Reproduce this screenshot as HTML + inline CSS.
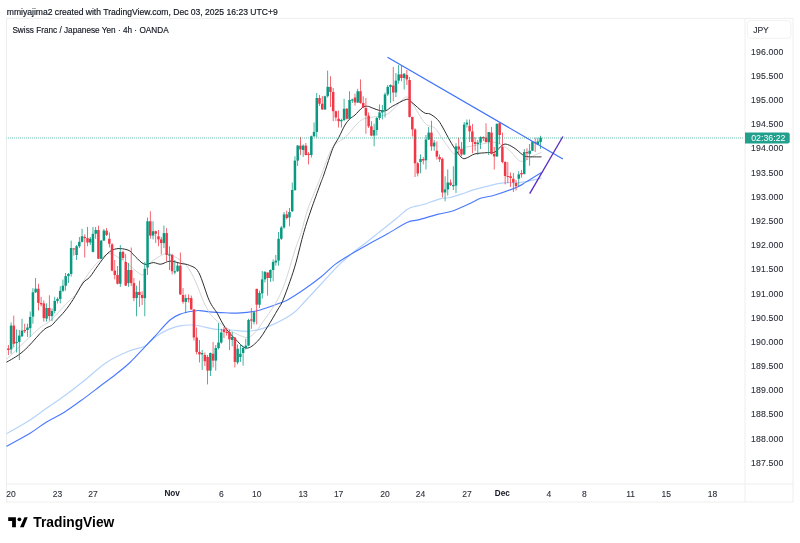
<!DOCTYPE html><html><head><meta charset="utf-8"><style>html,body{margin:0;padding:0;background:#fff;}body{width:800px;height:543px;overflow:hidden;position:relative;font-family:"Liberation Sans",sans-serif;}svg{position:absolute;left:0;top:0;will-change:transform;}</style></head><body>
<svg width="800" height="543" viewBox="0 0 800 543" font-family="Liberation Sans, sans-serif">
<defs><clipPath id="cp"><rect x="6.5" y="18.5" width="738" height="465"/></clipPath></defs>
<text x="6.8" y="14.6" font-size="8.57" fill="#131722" stroke="#131722" stroke-width="0.18">mmiyajima2 created with TradingView.com, Dec 03, 2025 16:23 UTC+9</text>
<rect x="6.5" y="18.4" width="786.5" height="483.6" fill="none" stroke="#eeeeee" stroke-width="1"/>
<line x1="745" y1="18.4" x2="745" y2="502" stroke="#eeeeee" stroke-width="1"/>
<line x1="6.5" y1="484" x2="793" y2="484" stroke="#eeeeee" stroke-width="1"/>
<text x="12.4" y="33" font-size="8.23" fill="#131722" stroke="#131722" stroke-width="0.15">Swiss Franc / Japanese Yen · 4h · OANDA</text>
<g clip-path="url(#cp)">
<path d="M6.00,434.00 C9.68,431.87 21.40,425.45 28.10,421.20 C34.80,416.95 39.83,412.97 46.20,408.50 C52.57,404.03 59.62,399.32 66.30,394.40 C72.98,389.48 79.62,384.33 86.30,379.00 C92.98,373.67 99.37,367.03 106.40,362.40 C113.43,357.77 122.13,353.90 128.50,351.20 C134.87,348.50 139.97,348.69 144.60,346.20 C149.22,343.71 152.22,339.05 156.25,336.25 C160.28,333.45 164.58,331.17 168.75,329.40 C172.92,327.62 177.50,326.33 181.25,325.60 C185.00,324.87 188.12,324.93 191.25,325.00 C194.38,325.07 195.88,325.27 200.00,326.00 C204.12,326.73 210.83,328.73 216.00,329.40 C221.17,330.07 225.54,329.69 231.00,330.00 C236.46,330.31 242.67,331.77 248.75,331.25 C254.83,330.73 260.21,329.82 267.50,326.90 C274.79,323.98 286.04,318.23 292.50,313.75 C298.96,309.27 300.00,306.56 306.25,300.00 C312.50,293.44 324.44,280.33 330.00,274.40 C335.56,268.47 335.73,268.07 339.60,264.40 C343.47,260.73 348.92,255.92 353.20,252.40 C357.48,248.88 360.77,246.83 365.30,243.30 C369.83,239.77 375.37,235.22 380.40,231.20 C385.43,227.18 390.98,222.85 395.50,219.20 C400.02,215.55 404.23,211.45 407.50,209.30 C410.77,207.15 412.58,207.05 415.10,206.30 C417.62,205.55 418.45,206.05 422.60,204.80 C426.75,203.55 435.43,200.02 440.00,198.80 C444.57,197.58 446.25,198.34 450.00,197.50 C453.75,196.66 458.33,195.10 462.50,193.75 C466.67,192.40 468.54,191.18 475.00,189.40 C481.46,187.62 493.75,184.25 501.25,183.10 C508.75,181.95 513.29,183.32 520.00,182.50 C526.71,181.68 537.92,178.92 541.50,178.20" fill="none" stroke="#b5d3fb" stroke-width="1.2"/>
<path d="M6.00,446.50 C10.02,444.29 23.40,437.30 30.10,433.25 C36.80,429.20 40.50,425.71 46.20,422.20 C51.90,418.69 57.95,416.22 64.30,412.20 C70.65,408.18 78.35,402.43 84.30,398.10 C90.25,393.78 94.88,390.10 100.00,386.25 C105.12,382.40 110.00,378.96 115.00,375.00 C120.00,371.04 125.21,366.98 130.00,362.50 C134.79,358.02 139.79,352.27 143.75,348.10 C147.71,343.93 149.38,342.18 153.75,337.50 C158.12,332.82 165.42,323.96 170.00,320.00 C174.58,316.04 177.29,315.25 181.25,313.75 C185.21,312.25 190.62,311.52 193.75,311.00 C196.88,310.48 197.29,310.45 200.00,310.60 C202.71,310.75 205.83,311.54 210.00,311.90 C214.17,312.26 220.42,312.55 225.00,312.75 C229.58,312.95 232.50,313.35 237.50,313.10 C242.50,312.85 250.00,312.18 255.00,311.25 C260.00,310.32 263.33,308.88 267.50,307.50 C271.67,306.12 276.67,304.25 280.00,303.00 C283.33,301.75 283.33,302.38 287.50,300.00 C291.67,297.62 299.33,292.67 305.00,288.75 C310.67,284.83 316.48,280.56 321.50,276.50 C326.52,272.44 330.32,268.05 335.10,264.40 C339.88,260.75 343.92,258.37 350.20,254.60 C356.48,250.83 366.52,245.32 372.80,241.80 C379.08,238.28 382.12,236.77 387.90,233.50 C393.68,230.23 402.47,224.47 407.50,222.20 C412.53,219.93 413.10,221.20 418.10,219.90 C423.10,218.60 431.77,215.88 437.50,214.40 C443.23,212.92 447.29,212.73 452.50,211.00 C457.71,209.27 463.96,206.15 468.75,204.00 C473.54,201.85 476.88,199.60 481.25,198.10 C485.62,196.60 488.96,196.87 495.00,195.00 C501.04,193.13 512.29,189.08 517.50,186.90 C522.71,184.72 522.25,184.30 526.25,181.90 C530.25,179.50 538.96,174.07 541.50,172.50" fill="none" stroke="#2962ff" stroke-width="1.1" stroke-opacity="0.85"/>
<path d="M6.00,360.00 C11.21,355.00 29.92,336.50 37.25,330.00 C44.58,323.50 45.04,325.50 50.00,321.00 C54.96,316.50 62.55,307.62 67.00,303.00 C71.45,298.38 74.07,296.77 76.70,293.30 C79.33,289.83 80.43,286.05 82.80,282.20 C85.17,278.35 88.20,273.72 90.90,270.20 C93.60,266.68 95.88,263.87 99.00,261.10 C102.12,258.33 105.27,253.45 109.60,253.60 C113.93,253.75 119.72,258.48 125.00,262.00 C130.28,265.52 137.80,273.37 141.30,274.70 C144.80,276.03 144.48,272.02 146.00,270.00 C147.52,267.98 147.15,265.33 150.40,262.60 C153.65,259.87 161.48,254.60 165.50,253.60 C169.52,252.60 170.98,254.58 174.50,256.60 C178.02,258.62 183.07,261.47 186.60,265.70 C190.13,269.93 192.77,275.78 195.70,282.00 C198.63,288.22 201.25,297.07 204.20,303.00 C207.15,308.93 209.43,313.32 213.40,317.60 C217.37,321.88 225.07,326.47 228.00,328.70 C230.93,330.93 227.96,329.53 231.00,331.00 C234.04,332.47 242.25,337.25 246.25,337.50 C250.25,337.75 252.29,335.00 255.00,332.50 C257.71,330.00 259.00,327.50 262.50,322.50 C266.00,317.50 272.25,309.17 276.00,302.50 C279.75,295.83 281.83,291.25 285.00,282.50 C288.17,273.75 292.29,258.33 295.00,250.00 C297.71,241.67 299.17,239.17 301.25,232.50 C303.33,225.83 304.79,217.92 307.50,210.00 C310.21,202.08 315.25,190.67 317.50,185.00 C319.75,179.33 318.50,182.25 321.00,176.00 C323.50,169.75 328.50,153.92 332.50,147.50 C336.50,141.08 341.08,141.25 345.00,137.50 C348.92,133.75 353.08,128.02 356.00,125.00 C358.92,121.98 360.17,120.65 362.50,119.40 C364.83,118.15 366.25,118.23 370.00,117.50 C373.75,116.77 381.25,116.25 385.00,115.00 C388.75,113.75 388.96,113.02 392.50,110.00 C396.04,106.98 402.92,97.94 406.25,96.90 C409.58,95.86 409.38,99.36 412.50,103.75 C415.62,108.14 421.25,119.17 425.00,123.25 C428.75,127.33 431.88,125.33 435.00,128.25 C438.12,131.17 440.42,136.38 443.75,140.75 C447.08,145.12 451.88,153.25 455.00,154.50 C458.12,155.75 460.00,149.60 462.50,148.25 C465.00,146.90 465.83,147.28 470.00,146.40 C474.17,145.53 483.17,143.63 487.50,143.00 C491.83,142.37 493.08,141.93 496.00,142.60 C498.92,143.27 502.46,145.43 505.00,147.00 C507.54,148.57 508.54,149.60 511.25,152.00 C513.96,154.40 517.29,160.90 521.25,161.40 C525.21,161.90 531.62,156.50 535.00,155.00 C538.38,153.50 540.42,152.83 541.50,152.40" fill="none" stroke="#d0d0d0" stroke-width="0.9"/>
<path d="M6.00,362.50 C8.08,361.25 14.75,357.71 18.50,355.00 C22.25,352.29 24.33,350.42 28.50,346.25 C32.67,342.08 39.68,333.46 43.50,330.00 C47.32,326.54 49.22,327.17 51.40,325.50 C53.58,323.83 54.37,322.40 56.60,320.00 C58.83,317.60 62.05,314.52 64.80,311.10 C67.55,307.68 70.07,304.18 73.10,299.50 C76.13,294.82 80.23,286.72 83.00,283.00 C85.77,279.28 87.22,280.10 89.70,277.20 C92.18,274.30 95.15,269.33 97.90,265.60 C100.65,261.87 103.72,257.42 106.20,254.80 C108.68,252.18 110.50,250.93 112.80,249.90 C115.10,248.87 117.27,248.48 120.00,248.60 C122.73,248.72 126.65,249.27 129.20,250.60 C131.75,251.93 132.78,254.33 135.30,256.60 C137.82,258.87 141.28,263.20 144.30,264.20 C147.32,265.20 150.63,262.60 153.40,262.60 C156.17,262.60 158.13,264.45 160.90,264.20 C163.67,263.95 166.72,261.23 170.00,261.10 C173.28,260.97 177.33,262.68 180.60,263.40 C183.87,264.12 186.58,263.88 189.60,265.40 C192.62,266.92 195.43,266.67 198.70,272.50 C201.97,278.33 206.07,293.52 209.20,300.40 C212.33,307.27 214.87,309.23 217.50,313.75 C220.13,318.27 222.08,323.33 225.00,327.50 C227.92,331.67 231.46,335.32 235.00,338.75 C238.54,342.18 242.50,347.68 246.25,348.10 C250.00,348.52 253.96,344.78 257.50,341.25 C261.04,337.72 264.17,332.11 267.50,326.90 C270.83,321.69 275.00,314.27 277.50,310.00 C280.00,305.73 280.42,306.04 282.50,301.25 C284.58,296.46 287.75,287.71 290.00,281.25 C292.25,274.79 293.71,270.62 296.00,262.50 C298.29,254.38 301.25,241.25 303.75,232.50 C306.25,223.75 308.29,217.92 311.00,210.00 C313.71,202.08 317.88,190.83 320.00,185.00 C322.12,179.17 322.08,179.79 323.75,175.00 C325.42,170.21 328.33,161.04 330.00,156.25 C331.67,151.46 332.29,149.38 333.75,146.25 C335.21,143.12 336.88,141.04 338.75,137.50 C340.62,133.96 343.12,128.12 345.00,125.00 C346.88,121.88 348.33,120.42 350.00,118.75 C351.67,117.08 352.92,116.88 355.00,115.00 C357.08,113.12 360.42,108.96 362.50,107.50 C364.58,106.04 365.83,106.17 367.50,106.25 C369.17,106.33 370.42,107.28 372.50,108.00 C374.58,108.72 377.75,110.17 380.00,110.60 C382.25,111.03 383.92,111.32 386.00,110.60 C388.08,109.88 389.12,108.12 392.50,106.25 C395.88,104.38 403.12,100.12 406.25,99.40 C409.38,98.68 408.33,99.72 411.25,101.90 C414.17,104.08 420.62,110.48 423.75,112.50 C426.88,114.52 427.71,112.83 430.00,114.00 C432.29,115.17 435.42,117.33 437.50,119.50 C439.58,121.67 440.42,123.46 442.50,127.00 C444.58,130.54 447.71,136.79 450.00,140.75 C452.29,144.71 454.17,147.83 456.25,150.75 C458.33,153.67 460.62,157.11 462.50,158.25 C464.38,159.39 465.42,158.32 467.50,157.60 C469.58,156.88 471.67,154.73 475.00,153.90 C478.33,153.07 484.17,152.92 487.50,152.60 C490.83,152.28 492.50,153.27 495.00,152.00 C497.50,150.73 500.42,146.25 502.50,145.00 C504.58,143.75 505.42,143.92 507.50,144.50 C509.58,145.08 512.52,146.82 515.00,148.50 C517.48,150.18 520.43,153.25 522.40,154.60 C524.37,155.95 523.62,156.22 526.80,156.60 C529.98,156.98 539.05,156.85 541.50,156.90" fill="none" stroke="#2e2e2e" stroke-width="1"/>
<rect x="7.97" y="345.00" width="0.75" height="10.00" fill="#f23645"/>
<rect x="7.10" y="348.50" width="2.5" height="1.50" fill="#f23645"/>
<rect x="10.70" y="322.50" width="0.75" height="31.25" fill="#089981"/>
<rect x="9.83" y="325.60" width="2.5" height="23.80" fill="#089981"/>
<rect x="13.43" y="315.60" width="0.75" height="31.90" fill="#f23645"/>
<rect x="12.56" y="325.60" width="2.5" height="18.15" fill="#f23645"/>
<rect x="16.16" y="329.40" width="0.75" height="23.10" fill="#089981"/>
<rect x="15.29" y="341.90" width="2.5" height="1.20" fill="#089981"/>
<rect x="18.89" y="330.00" width="0.75" height="30.00" fill="#089981"/>
<rect x="18.02" y="335.60" width="2.5" height="6.30" fill="#089981"/>
<rect x="21.62" y="318.75" width="0.75" height="18.25" fill="#089981"/>
<rect x="20.75" y="330.60" width="2.5" height="5.65" fill="#089981"/>
<rect x="24.35" y="323.75" width="0.75" height="9.25" fill="#f23645"/>
<rect x="23.48" y="330.00" width="2.5" height="1.25" fill="#f23645"/>
<rect x="27.08" y="323.75" width="0.75" height="13.15" fill="#089981"/>
<rect x="26.21" y="327.50" width="2.5" height="2.50" fill="#089981"/>
<rect x="29.81" y="311.50" width="0.75" height="25.40" fill="#089981"/>
<rect x="28.94" y="317.00" width="2.5" height="11.10" fill="#089981"/>
<rect x="32.54" y="288.20" width="0.75" height="35.55" fill="#089981"/>
<rect x="31.67" y="292.30" width="2.5" height="24.30" fill="#089981"/>
<rect x="35.27" y="278.10" width="0.75" height="14.90" fill="#089981"/>
<rect x="34.39" y="288.70" width="2.5" height="3.60" fill="#089981"/>
<rect x="38.00" y="283.70" width="0.75" height="26.80" fill="#f23645"/>
<rect x="37.12" y="288.70" width="2.5" height="14.20" fill="#f23645"/>
<rect x="40.73" y="296.80" width="0.75" height="9.70" fill="#f23645"/>
<rect x="39.85" y="302.90" width="2.5" height="1.50" fill="#f23645"/>
<rect x="43.46" y="300.40" width="0.75" height="21.20" fill="#f23645"/>
<rect x="42.58" y="303.40" width="2.5" height="14.70" fill="#f23645"/>
<rect x="46.19" y="303.40" width="0.75" height="18.20" fill="#089981"/>
<rect x="45.31" y="308.00" width="2.5" height="10.60" fill="#089981"/>
<rect x="48.92" y="295.30" width="0.75" height="25.30" fill="#f23645"/>
<rect x="48.04" y="308.00" width="2.5" height="8.10" fill="#f23645"/>
<rect x="51.65" y="308.50" width="0.75" height="12.60" fill="#089981"/>
<rect x="50.77" y="311.00" width="2.5" height="5.10" fill="#089981"/>
<rect x="54.38" y="296.80" width="0.75" height="16.70" fill="#089981"/>
<rect x="53.50" y="300.90" width="2.5" height="10.10" fill="#089981"/>
<rect x="57.11" y="297.30" width="0.75" height="6.10" fill="#089981"/>
<rect x="56.23" y="298.90" width="2.5" height="2.00" fill="#089981"/>
<rect x="59.84" y="286.20" width="0.75" height="17.20" fill="#089981"/>
<rect x="58.96" y="290.80" width="2.5" height="8.10" fill="#089981"/>
<rect x="62.56" y="279.50" width="0.75" height="12.50" fill="#089981"/>
<rect x="61.69" y="285.70" width="2.5" height="5.10" fill="#089981"/>
<rect x="65.29" y="273.00" width="0.75" height="17.60" fill="#089981"/>
<rect x="64.42" y="276.10" width="2.5" height="9.60" fill="#089981"/>
<rect x="68.02" y="273.00" width="0.75" height="10.00" fill="#089981"/>
<rect x="67.15" y="274.00" width="2.5" height="2.10" fill="#089981"/>
<rect x="70.75" y="240.60" width="0.75" height="36.00" fill="#089981"/>
<rect x="69.88" y="248.00" width="2.5" height="26.00" fill="#089981"/>
<rect x="73.48" y="248.00" width="0.75" height="7.60" fill="#f23645"/>
<rect x="72.61" y="248.50" width="2.5" height="0.90" fill="#f23645"/>
<rect x="76.21" y="245.00" width="0.75" height="15.00" fill="#089981"/>
<rect x="75.34" y="246.25" width="2.5" height="8.75" fill="#089981"/>
<rect x="78.94" y="237.00" width="0.75" height="11.00" fill="#089981"/>
<rect x="78.07" y="241.90" width="2.5" height="4.35" fill="#089981"/>
<rect x="81.67" y="228.75" width="0.75" height="13.75" fill="#089981"/>
<rect x="80.80" y="236.25" width="2.5" height="5.65" fill="#089981"/>
<rect x="84.40" y="234.40" width="0.75" height="23.10" fill="#f23645"/>
<rect x="83.53" y="236.90" width="2.5" height="1.20" fill="#f23645"/>
<rect x="87.13" y="226.90" width="0.75" height="19.35" fill="#f23645"/>
<rect x="86.26" y="238.10" width="2.5" height="4.40" fill="#f23645"/>
<rect x="89.86" y="237.00" width="0.75" height="8.00" fill="#089981"/>
<rect x="88.98" y="238.75" width="2.5" height="3.75" fill="#089981"/>
<rect x="92.59" y="226.90" width="0.75" height="25.60" fill="#089981"/>
<rect x="91.71" y="233.75" width="2.5" height="18.15" fill="#089981"/>
<rect x="95.32" y="226.90" width="0.75" height="11.85" fill="#089981"/>
<rect x="94.44" y="230.00" width="2.5" height="3.75" fill="#089981"/>
<rect x="98.05" y="225.60" width="0.75" height="33.40" fill="#f23645"/>
<rect x="97.17" y="230.00" width="2.5" height="28.75" fill="#f23645"/>
<rect x="100.78" y="240.00" width="0.75" height="19.00" fill="#089981"/>
<rect x="99.90" y="240.60" width="2.5" height="18.15" fill="#089981"/>
<rect x="103.51" y="229.00" width="0.75" height="12.00" fill="#089981"/>
<rect x="102.63" y="230.60" width="2.5" height="10.00" fill="#089981"/>
<rect x="106.24" y="228.00" width="0.75" height="8.00" fill="#f23645"/>
<rect x="105.36" y="230.60" width="2.5" height="4.40" fill="#f23645"/>
<rect x="108.97" y="232.50" width="0.75" height="15.00" fill="#f23645"/>
<rect x="108.09" y="238.75" width="2.5" height="5.00" fill="#f23645"/>
<rect x="111.70" y="243.00" width="0.75" height="28.25" fill="#f23645"/>
<rect x="110.82" y="244.40" width="2.5" height="26.20" fill="#f23645"/>
<rect x="114.43" y="260.00" width="0.75" height="19.40" fill="#f23645"/>
<rect x="113.55" y="270.60" width="2.5" height="4.40" fill="#f23645"/>
<rect x="117.15" y="266.00" width="0.75" height="18.40" fill="#f23645"/>
<rect x="116.28" y="275.00" width="2.5" height="8.75" fill="#f23645"/>
<rect x="119.88" y="245.00" width="0.75" height="41.90" fill="#089981"/>
<rect x="119.01" y="251.90" width="2.5" height="31.85" fill="#089981"/>
<rect x="122.61" y="250.60" width="0.75" height="9.40" fill="#f23645"/>
<rect x="121.74" y="251.90" width="2.5" height="6.10" fill="#f23645"/>
<rect x="125.34" y="254.00" width="0.75" height="32.00" fill="#f23645"/>
<rect x="124.47" y="262.00" width="2.5" height="23.60" fill="#f23645"/>
<rect x="128.07" y="263.00" width="0.75" height="23.90" fill="#089981"/>
<rect x="127.20" y="270.00" width="2.5" height="13.10" fill="#089981"/>
<rect x="130.80" y="247.50" width="0.75" height="38.50" fill="#f23645"/>
<rect x="129.93" y="270.00" width="2.5" height="13.10" fill="#f23645"/>
<rect x="133.53" y="278.00" width="0.75" height="23.25" fill="#f23645"/>
<rect x="132.66" y="283.10" width="2.5" height="15.00" fill="#f23645"/>
<rect x="136.26" y="285.60" width="0.75" height="30.65" fill="#089981"/>
<rect x="135.39" y="291.90" width="2.5" height="6.20" fill="#089981"/>
<rect x="138.99" y="280.60" width="0.75" height="26.30" fill="#f23645"/>
<rect x="138.12" y="291.90" width="2.5" height="3.10" fill="#f23645"/>
<rect x="141.72" y="291.25" width="0.75" height="13.75" fill="#f23645"/>
<rect x="140.85" y="295.00" width="2.5" height="3.10" fill="#f23645"/>
<rect x="144.45" y="262.00" width="0.75" height="54.25" fill="#089981"/>
<rect x="143.57" y="268.75" width="2.5" height="29.35" fill="#089981"/>
<rect x="147.18" y="217.50" width="0.75" height="57.50" fill="#089981"/>
<rect x="146.30" y="221.25" width="2.5" height="46.25" fill="#089981"/>
<rect x="149.91" y="211.25" width="0.75" height="27.50" fill="#f23645"/>
<rect x="149.03" y="221.25" width="2.5" height="14.35" fill="#f23645"/>
<rect x="152.64" y="221.25" width="0.75" height="18.15" fill="#089981"/>
<rect x="151.76" y="231.25" width="2.5" height="4.35" fill="#089981"/>
<rect x="155.37" y="230.60" width="0.75" height="12.40" fill="#f23645"/>
<rect x="154.49" y="231.25" width="2.5" height="2.50" fill="#f23645"/>
<rect x="158.10" y="230.00" width="0.75" height="16.25" fill="#f23645"/>
<rect x="157.22" y="236.25" width="2.5" height="3.15" fill="#f23645"/>
<rect x="160.83" y="236.90" width="0.75" height="17.50" fill="#f23645"/>
<rect x="159.95" y="239.40" width="2.5" height="3.70" fill="#f23645"/>
<rect x="163.56" y="225.60" width="0.75" height="22.50" fill="#089981"/>
<rect x="162.68" y="233.10" width="2.5" height="10.00" fill="#089981"/>
<rect x="166.29" y="228.10" width="0.75" height="33.15" fill="#f23645"/>
<rect x="165.41" y="233.10" width="2.5" height="21.90" fill="#f23645"/>
<rect x="169.02" y="246.25" width="0.75" height="23.75" fill="#089981"/>
<rect x="168.14" y="254.40" width="2.5" height="1.20" fill="#089981"/>
<rect x="171.74" y="253.75" width="0.75" height="20.65" fill="#f23645"/>
<rect x="170.87" y="255.00" width="2.5" height="16.25" fill="#f23645"/>
<rect x="174.47" y="260.00" width="0.75" height="14.40" fill="#089981"/>
<rect x="173.60" y="271.25" width="2.5" height="1.25" fill="#089981"/>
<rect x="177.20" y="263.00" width="0.75" height="9.00" fill="#089981"/>
<rect x="176.33" y="265.60" width="2.5" height="5.65" fill="#089981"/>
<rect x="179.93" y="252.50" width="0.75" height="42.50" fill="#f23645"/>
<rect x="179.06" y="265.60" width="2.5" height="28.80" fill="#f23645"/>
<rect x="182.66" y="288.00" width="0.75" height="15.75" fill="#f23645"/>
<rect x="181.79" y="295.00" width="2.5" height="6.90" fill="#f23645"/>
<rect x="185.39" y="294.40" width="0.75" height="18.70" fill="#089981"/>
<rect x="184.52" y="298.10" width="2.5" height="3.80" fill="#089981"/>
<rect x="188.12" y="294.40" width="0.75" height="8.10" fill="#f23645"/>
<rect x="187.25" y="298.10" width="2.5" height="1.30" fill="#f23645"/>
<rect x="190.85" y="295.60" width="0.75" height="14.40" fill="#f23645"/>
<rect x="189.98" y="298.10" width="2.5" height="11.30" fill="#f23645"/>
<rect x="193.58" y="309.40" width="0.75" height="31.20" fill="#f23645"/>
<rect x="192.71" y="309.40" width="2.5" height="28.10" fill="#f23645"/>
<rect x="196.31" y="327.50" width="0.75" height="26.90" fill="#f23645"/>
<rect x="195.44" y="337.50" width="2.5" height="14.40" fill="#f23645"/>
<rect x="199.04" y="340.00" width="0.75" height="22.50" fill="#f23645"/>
<rect x="198.16" y="351.90" width="2.5" height="2.50" fill="#f23645"/>
<rect x="201.77" y="350.00" width="0.75" height="20.00" fill="#089981"/>
<rect x="200.89" y="353.00" width="2.5" height="1.40" fill="#089981"/>
<rect x="204.50" y="352.50" width="0.75" height="13.50" fill="#f23645"/>
<rect x="203.62" y="355.00" width="2.5" height="6.25" fill="#f23645"/>
<rect x="207.23" y="355.00" width="0.75" height="29.40" fill="#f23645"/>
<rect x="206.35" y="357.00" width="2.5" height="13.60" fill="#f23645"/>
<rect x="209.96" y="352.50" width="0.75" height="23.50" fill="#089981"/>
<rect x="209.08" y="353.00" width="2.5" height="17.60" fill="#089981"/>
<rect x="212.69" y="342.00" width="0.75" height="25.50" fill="#f23645"/>
<rect x="211.81" y="353.75" width="2.5" height="6.85" fill="#f23645"/>
<rect x="215.42" y="345.00" width="0.75" height="25.60" fill="#089981"/>
<rect x="214.54" y="348.00" width="2.5" height="12.60" fill="#089981"/>
<rect x="218.15" y="323.00" width="0.75" height="26.40" fill="#089981"/>
<rect x="217.27" y="342.50" width="2.5" height="5.50" fill="#089981"/>
<rect x="220.88" y="328.75" width="0.75" height="15.00" fill="#089981"/>
<rect x="220.00" y="332.50" width="2.5" height="10.00" fill="#089981"/>
<rect x="223.61" y="327.00" width="0.75" height="11.00" fill="#f23645"/>
<rect x="222.73" y="329.40" width="2.5" height="2.60" fill="#f23645"/>
<rect x="226.33" y="328.00" width="0.75" height="7.60" fill="#f23645"/>
<rect x="225.46" y="332.00" width="2.5" height="1.00" fill="#f23645"/>
<rect x="229.06" y="329.40" width="0.75" height="20.60" fill="#f23645"/>
<rect x="228.19" y="332.00" width="2.5" height="7.40" fill="#f23645"/>
<rect x="231.79" y="331.90" width="0.75" height="14.35" fill="#089981"/>
<rect x="230.92" y="337.00" width="2.5" height="3.00" fill="#089981"/>
<rect x="234.52" y="337.00" width="0.75" height="30.50" fill="#f23645"/>
<rect x="233.65" y="337.50" width="2.5" height="24.40" fill="#f23645"/>
<rect x="237.25" y="344.40" width="0.75" height="20.00" fill="#089981"/>
<rect x="236.38" y="348.75" width="2.5" height="13.75" fill="#089981"/>
<rect x="239.98" y="344.40" width="0.75" height="17.50" fill="#089981"/>
<rect x="239.11" y="353.75" width="2.5" height="3.25" fill="#089981"/>
<rect x="242.71" y="346.00" width="0.75" height="19.60" fill="#089981"/>
<rect x="241.84" y="348.00" width="2.5" height="5.00" fill="#089981"/>
<rect x="245.44" y="338.75" width="0.75" height="10.65" fill="#089981"/>
<rect x="244.57" y="345.60" width="2.5" height="2.40" fill="#089981"/>
<rect x="248.17" y="318.75" width="0.75" height="27.50" fill="#089981"/>
<rect x="247.30" y="320.00" width="2.5" height="25.60" fill="#089981"/>
<rect x="250.90" y="308.00" width="0.75" height="20.75" fill="#f23645"/>
<rect x="250.03" y="319.40" width="2.5" height="1.20" fill="#f23645"/>
<rect x="253.63" y="311.25" width="0.75" height="13.15" fill="#089981"/>
<rect x="252.75" y="312.30" width="2.5" height="9.60" fill="#089981"/>
<rect x="256.36" y="288.75" width="0.75" height="35.65" fill="#f23645"/>
<rect x="255.48" y="288.90" width="2.5" height="15.80" fill="#f23645"/>
<rect x="259.09" y="290.60" width="0.75" height="17.40" fill="#089981"/>
<rect x="258.21" y="293.00" width="2.5" height="11.70" fill="#089981"/>
<rect x="261.82" y="271.00" width="0.75" height="27.60" fill="#089981"/>
<rect x="260.94" y="279.40" width="2.5" height="14.00" fill="#089981"/>
<rect x="264.55" y="271.00" width="0.75" height="11.50" fill="#089981"/>
<rect x="263.67" y="271.90" width="2.5" height="7.50" fill="#089981"/>
<rect x="267.28" y="272.50" width="0.75" height="23.10" fill="#f23645"/>
<rect x="266.40" y="272.50" width="2.5" height="5.50" fill="#f23645"/>
<rect x="270.01" y="269.40" width="0.75" height="12.50" fill="#089981"/>
<rect x="269.13" y="270.00" width="2.5" height="8.00" fill="#089981"/>
<rect x="272.74" y="259.40" width="0.75" height="21.85" fill="#089981"/>
<rect x="271.86" y="261.90" width="2.5" height="8.10" fill="#089981"/>
<rect x="275.47" y="255.00" width="0.75" height="10.60" fill="#089981"/>
<rect x="274.59" y="260.60" width="2.5" height="1.90" fill="#089981"/>
<rect x="278.20" y="232.00" width="0.75" height="33.60" fill="#089981"/>
<rect x="277.32" y="238.75" width="2.5" height="21.85" fill="#089981"/>
<rect x="280.93" y="226.00" width="0.75" height="14.00" fill="#089981"/>
<rect x="280.05" y="227.50" width="2.5" height="11.25" fill="#089981"/>
<rect x="283.65" y="212.00" width="0.75" height="16.75" fill="#089981"/>
<rect x="282.78" y="214.40" width="2.5" height="13.10" fill="#089981"/>
<rect x="286.38" y="210.60" width="0.75" height="8.80" fill="#f23645"/>
<rect x="285.51" y="214.40" width="2.5" height="3.60" fill="#f23645"/>
<rect x="289.11" y="208.00" width="0.75" height="18.25" fill="#089981"/>
<rect x="288.24" y="212.00" width="2.5" height="5.50" fill="#089981"/>
<rect x="291.84" y="182.50" width="0.75" height="29.50" fill="#089981"/>
<rect x="290.97" y="190.00" width="2.5" height="21.25" fill="#089981"/>
<rect x="294.57" y="156.25" width="0.75" height="34.75" fill="#089981"/>
<rect x="293.70" y="160.60" width="2.5" height="29.40" fill="#089981"/>
<rect x="297.30" y="145.00" width="0.75" height="21.00" fill="#089981"/>
<rect x="296.43" y="145.60" width="2.5" height="15.00" fill="#089981"/>
<rect x="300.03" y="136.90" width="0.75" height="18.10" fill="#f23645"/>
<rect x="299.16" y="145.60" width="2.5" height="3.80" fill="#f23645"/>
<rect x="302.76" y="144.40" width="0.75" height="12.50" fill="#089981"/>
<rect x="301.89" y="145.60" width="2.5" height="4.40" fill="#089981"/>
<rect x="305.49" y="143.00" width="0.75" height="12.50" fill="#f23645"/>
<rect x="304.62" y="145.60" width="2.5" height="9.40" fill="#f23645"/>
<rect x="308.22" y="152.00" width="0.75" height="12.40" fill="#f23645"/>
<rect x="307.35" y="153.75" width="2.5" height="1.25" fill="#f23645"/>
<rect x="310.95" y="135.60" width="0.75" height="21.90" fill="#089981"/>
<rect x="310.07" y="136.25" width="2.5" height="18.75" fill="#089981"/>
<rect x="313.68" y="122.50" width="0.75" height="14.50" fill="#089981"/>
<rect x="312.80" y="131.90" width="2.5" height="4.35" fill="#089981"/>
<rect x="316.41" y="93.00" width="0.75" height="44.50" fill="#089981"/>
<rect x="315.53" y="98.00" width="2.5" height="33.90" fill="#089981"/>
<rect x="319.14" y="95.00" width="0.75" height="11.00" fill="#f23645"/>
<rect x="318.26" y="98.00" width="2.5" height="5.75" fill="#f23645"/>
<rect x="321.87" y="96.00" width="0.75" height="14.00" fill="#f23645"/>
<rect x="320.99" y="103.75" width="2.5" height="5.65" fill="#f23645"/>
<rect x="324.60" y="95.60" width="0.75" height="14.40" fill="#089981"/>
<rect x="323.72" y="96.25" width="2.5" height="13.15" fill="#089981"/>
<rect x="327.33" y="70.60" width="0.75" height="26.90" fill="#089981"/>
<rect x="326.45" y="86.90" width="2.5" height="9.35" fill="#089981"/>
<rect x="330.06" y="76.25" width="0.75" height="30.75" fill="#f23645"/>
<rect x="329.18" y="86.90" width="2.5" height="5.10" fill="#f23645"/>
<rect x="332.79" y="88.00" width="0.75" height="33.25" fill="#f23645"/>
<rect x="331.91" y="92.00" width="2.5" height="19.25" fill="#f23645"/>
<rect x="335.51" y="110.60" width="0.75" height="10.40" fill="#f23645"/>
<rect x="334.64" y="111.25" width="2.5" height="6.25" fill="#f23645"/>
<rect x="338.24" y="110.60" width="0.75" height="16.90" fill="#f23645"/>
<rect x="337.37" y="118.75" width="2.5" height="2.50" fill="#f23645"/>
<rect x="340.97" y="118.75" width="0.75" height="8.75" fill="#089981"/>
<rect x="340.10" y="120.00" width="2.5" height="1.25" fill="#089981"/>
<rect x="343.70" y="98.75" width="0.75" height="22.50" fill="#089981"/>
<rect x="342.83" y="108.75" width="2.5" height="11.25" fill="#089981"/>
<rect x="346.43" y="108.00" width="0.75" height="11.40" fill="#f23645"/>
<rect x="345.56" y="108.75" width="2.5" height="10.00" fill="#f23645"/>
<rect x="349.16" y="91.25" width="0.75" height="28.75" fill="#089981"/>
<rect x="348.29" y="100.00" width="2.5" height="18.75" fill="#089981"/>
<rect x="351.89" y="98.75" width="0.75" height="4.25" fill="#089981"/>
<rect x="351.02" y="99.40" width="2.5" height="1.20" fill="#089981"/>
<rect x="354.62" y="93.75" width="0.75" height="11.85" fill="#f23645"/>
<rect x="353.75" y="97.50" width="2.5" height="5.00" fill="#f23645"/>
<rect x="357.35" y="88.75" width="0.75" height="14.25" fill="#089981"/>
<rect x="356.48" y="91.25" width="2.5" height="11.25" fill="#089981"/>
<rect x="360.08" y="79.40" width="0.75" height="24.35" fill="#f23645"/>
<rect x="359.21" y="91.25" width="2.5" height="11.75" fill="#f23645"/>
<rect x="362.81" y="96.25" width="0.75" height="11.75" fill="#f23645"/>
<rect x="361.94" y="103.00" width="2.5" height="4.50" fill="#f23645"/>
<rect x="365.54" y="98.00" width="0.75" height="35.75" fill="#f23645"/>
<rect x="364.66" y="108.00" width="2.5" height="7.60" fill="#f23645"/>
<rect x="368.27" y="112.50" width="0.75" height="15.50" fill="#f23645"/>
<rect x="367.39" y="115.60" width="2.5" height="10.65" fill="#f23645"/>
<rect x="371.00" y="121.25" width="0.75" height="15.00" fill="#f23645"/>
<rect x="370.12" y="126.25" width="2.5" height="9.35" fill="#f23645"/>
<rect x="373.73" y="123.75" width="0.75" height="22.50" fill="#089981"/>
<rect x="372.85" y="130.00" width="2.5" height="5.60" fill="#089981"/>
<rect x="376.46" y="117.00" width="0.75" height="18.60" fill="#089981"/>
<rect x="375.58" y="118.00" width="2.5" height="12.00" fill="#089981"/>
<rect x="379.19" y="104.40" width="0.75" height="15.60" fill="#089981"/>
<rect x="378.31" y="112.50" width="2.5" height="5.50" fill="#089981"/>
<rect x="381.92" y="105.00" width="0.75" height="14.40" fill="#089981"/>
<rect x="381.04" y="110.00" width="2.5" height="2.50" fill="#089981"/>
<rect x="384.65" y="92.50" width="0.75" height="25.00" fill="#089981"/>
<rect x="383.77" y="94.40" width="2.5" height="15.60" fill="#089981"/>
<rect x="387.38" y="85.00" width="0.75" height="11.00" fill="#089981"/>
<rect x="386.50" y="86.90" width="2.5" height="7.50" fill="#089981"/>
<rect x="390.11" y="84.40" width="0.75" height="18.60" fill="#089981"/>
<rect x="389.23" y="85.00" width="2.5" height="1.90" fill="#089981"/>
<rect x="392.83" y="66.90" width="0.75" height="34.35" fill="#f23645"/>
<rect x="391.96" y="85.60" width="2.5" height="6.90" fill="#f23645"/>
<rect x="395.56" y="73.00" width="0.75" height="24.00" fill="#089981"/>
<rect x="394.69" y="80.60" width="2.5" height="11.90" fill="#089981"/>
<rect x="398.29" y="65.00" width="0.75" height="18.75" fill="#089981"/>
<rect x="397.42" y="74.40" width="2.5" height="6.20" fill="#089981"/>
<rect x="401.02" y="65.60" width="0.75" height="15.65" fill="#f23645"/>
<rect x="400.15" y="74.40" width="2.5" height="3.60" fill="#f23645"/>
<rect x="403.75" y="73.00" width="0.75" height="16.40" fill="#089981"/>
<rect x="402.88" y="73.75" width="2.5" height="4.25" fill="#089981"/>
<rect x="406.48" y="70.00" width="0.75" height="15.00" fill="#f23645"/>
<rect x="405.61" y="75.00" width="2.5" height="4.40" fill="#f23645"/>
<rect x="409.21" y="77.00" width="0.75" height="40.50" fill="#f23645"/>
<rect x="408.34" y="80.00" width="2.5" height="36.90" fill="#f23645"/>
<rect x="411.94" y="116.90" width="0.75" height="19.50" fill="#f23645"/>
<rect x="411.07" y="116.90" width="2.5" height="12.60" fill="#f23645"/>
<rect x="414.67" y="128.25" width="0.75" height="48.75" fill="#f23645"/>
<rect x="413.80" y="129.50" width="2.5" height="33.75" fill="#f23645"/>
<rect x="417.40" y="162.00" width="0.75" height="14.40" fill="#f23645"/>
<rect x="416.52" y="163.25" width="2.5" height="10.25" fill="#f23645"/>
<rect x="420.13" y="154.40" width="0.75" height="18.85" fill="#089981"/>
<rect x="419.25" y="158.90" width="2.5" height="3.10" fill="#089981"/>
<rect x="422.86" y="157.00" width="0.75" height="7.40" fill="#f23645"/>
<rect x="421.98" y="159.00" width="2.5" height="1.50" fill="#f23645"/>
<rect x="425.59" y="135.00" width="0.75" height="34.40" fill="#089981"/>
<rect x="424.71" y="139.50" width="2.5" height="20.80" fill="#089981"/>
<rect x="428.32" y="127.00" width="0.75" height="13.00" fill="#089981"/>
<rect x="427.44" y="132.60" width="2.5" height="6.90" fill="#089981"/>
<rect x="431.05" y="120.75" width="0.75" height="30.00" fill="#f23645"/>
<rect x="430.17" y="132.60" width="2.5" height="13.80" fill="#f23645"/>
<rect x="433.78" y="140.00" width="0.75" height="10.75" fill="#089981"/>
<rect x="432.90" y="142.60" width="2.5" height="3.80" fill="#089981"/>
<rect x="436.51" y="141.40" width="0.75" height="18.10" fill="#f23645"/>
<rect x="435.63" y="150.75" width="2.5" height="5.85" fill="#f23645"/>
<rect x="439.24" y="154.50" width="0.75" height="7.50" fill="#f23645"/>
<rect x="438.36" y="157.00" width="2.5" height="2.40" fill="#f23645"/>
<rect x="441.97" y="157.60" width="0.75" height="39.90" fill="#f23645"/>
<rect x="441.09" y="158.90" width="2.5" height="33.60" fill="#f23645"/>
<rect x="444.69" y="176.25" width="0.75" height="25.00" fill="#089981"/>
<rect x="443.82" y="189.40" width="2.5" height="3.10" fill="#089981"/>
<rect x="447.42" y="169.40" width="0.75" height="26.20" fill="#089981"/>
<rect x="446.55" y="182.50" width="2.5" height="6.90" fill="#089981"/>
<rect x="450.15" y="179.40" width="0.75" height="6.60" fill="#f23645"/>
<rect x="449.28" y="182.50" width="2.5" height="2.50" fill="#f23645"/>
<rect x="452.88" y="166.25" width="0.75" height="23.75" fill="#089981"/>
<rect x="452.01" y="185.00" width="2.5" height="1.25" fill="#089981"/>
<rect x="455.61" y="143.25" width="0.75" height="49.85" fill="#089981"/>
<rect x="454.74" y="146.40" width="2.5" height="39.20" fill="#089981"/>
<rect x="458.34" y="137.60" width="0.75" height="16.90" fill="#f23645"/>
<rect x="457.47" y="146.40" width="2.5" height="3.10" fill="#f23645"/>
<rect x="461.07" y="142.00" width="0.75" height="14.00" fill="#f23645"/>
<rect x="460.20" y="148.90" width="2.5" height="5.60" fill="#f23645"/>
<rect x="463.80" y="122.00" width="0.75" height="33.00" fill="#089981"/>
<rect x="462.93" y="124.50" width="2.5" height="30.00" fill="#089981"/>
<rect x="466.53" y="119.50" width="0.75" height="8.10" fill="#089981"/>
<rect x="465.66" y="122.60" width="2.5" height="1.90" fill="#089981"/>
<rect x="469.26" y="119.50" width="0.75" height="22.50" fill="#f23645"/>
<rect x="468.39" y="125.75" width="2.5" height="5.65" fill="#f23645"/>
<rect x="471.99" y="123.90" width="0.75" height="29.35" fill="#f23645"/>
<rect x="471.12" y="131.40" width="2.5" height="10.60" fill="#f23645"/>
<rect x="474.72" y="137.00" width="0.75" height="13.75" fill="#f23645"/>
<rect x="473.84" y="142.00" width="2.5" height="2.00" fill="#f23645"/>
<rect x="477.45" y="140.00" width="0.75" height="15.00" fill="#089981"/>
<rect x="476.57" y="142.60" width="2.5" height="1.40" fill="#089981"/>
<rect x="480.18" y="136.40" width="0.75" height="12.60" fill="#089981"/>
<rect x="479.30" y="137.00" width="2.5" height="5.60" fill="#089981"/>
<rect x="482.91" y="136.40" width="0.75" height="4.60" fill="#f23645"/>
<rect x="482.03" y="137.00" width="2.5" height="1.25" fill="#f23645"/>
<rect x="485.64" y="123.25" width="0.75" height="19.35" fill="#f23645"/>
<rect x="484.76" y="137.60" width="2.5" height="4.40" fill="#f23645"/>
<rect x="488.37" y="132.00" width="0.75" height="23.00" fill="#089981"/>
<rect x="487.49" y="132.00" width="2.5" height="10.00" fill="#089981"/>
<rect x="491.10" y="127.00" width="0.75" height="27.50" fill="#f23645"/>
<rect x="490.22" y="132.60" width="2.5" height="21.30" fill="#f23645"/>
<rect x="493.83" y="147.00" width="0.75" height="22.40" fill="#f23645"/>
<rect x="492.95" y="153.90" width="2.5" height="2.50" fill="#f23645"/>
<rect x="496.56" y="123.25" width="0.75" height="33.75" fill="#089981"/>
<rect x="495.68" y="123.90" width="2.5" height="32.50" fill="#089981"/>
<rect x="499.28" y="122.60" width="0.75" height="21.40" fill="#f23645"/>
<rect x="498.41" y="123.25" width="2.5" height="11.75" fill="#f23645"/>
<rect x="502.01" y="132.60" width="0.75" height="30.65" fill="#f23645"/>
<rect x="501.14" y="147.00" width="2.5" height="15.00" fill="#f23645"/>
<rect x="504.74" y="161.40" width="0.75" height="23.00" fill="#f23645"/>
<rect x="503.87" y="161.90" width="2.5" height="14.10" fill="#f23645"/>
<rect x="507.47" y="162.00" width="0.75" height="21.00" fill="#f23645"/>
<rect x="506.60" y="176.00" width="2.5" height="1.00" fill="#f23645"/>
<rect x="510.20" y="172.50" width="0.75" height="14.40" fill="#f23645"/>
<rect x="509.33" y="176.25" width="2.5" height="1.75" fill="#f23645"/>
<rect x="512.93" y="173.00" width="0.75" height="18.90" fill="#f23645"/>
<rect x="512.06" y="178.75" width="2.5" height="3.75" fill="#f23645"/>
<rect x="515.66" y="180.00" width="0.75" height="10.60" fill="#f23645"/>
<rect x="514.79" y="183.00" width="2.5" height="3.25" fill="#f23645"/>
<rect x="518.39" y="171.25" width="0.75" height="15.00" fill="#089981"/>
<rect x="517.52" y="174.40" width="2.5" height="4.35" fill="#089981"/>
<rect x="521.12" y="170.00" width="0.75" height="7.50" fill="#f23645"/>
<rect x="520.25" y="173.00" width="2.5" height="1.40" fill="#f23645"/>
<rect x="523.85" y="149.00" width="0.75" height="25.50" fill="#089981"/>
<rect x="522.98" y="152.00" width="2.5" height="21.90" fill="#089981"/>
<rect x="526.58" y="148.25" width="0.75" height="11.75" fill="#f23645"/>
<rect x="525.71" y="152.00" width="2.5" height="1.25" fill="#f23645"/>
<rect x="529.31" y="144.00" width="0.75" height="21.75" fill="#089981"/>
<rect x="528.43" y="150.75" width="2.5" height="3.15" fill="#089981"/>
<rect x="532.04" y="141.00" width="0.75" height="10.00" fill="#089981"/>
<rect x="531.16" y="141.40" width="2.5" height="9.35" fill="#089981"/>
<rect x="534.77" y="137.60" width="0.75" height="14.40" fill="#f23645"/>
<rect x="533.89" y="142.00" width="2.5" height="1.25" fill="#f23645"/>
<rect x="537.50" y="137.60" width="0.75" height="7.40" fill="#089981"/>
<rect x="536.62" y="141.40" width="2.5" height="3.10" fill="#089981"/>
<rect x="540.23" y="135.75" width="0.75" height="13.15" fill="#089981"/>
<rect x="539.35" y="137.60" width="2.5" height="4.40" fill="#089981"/>
<line x1="6" y1="138" x2="744" y2="138" stroke="#089981" stroke-width="1" stroke-dasharray="1 1" stroke-opacity="0.6"/>
<line x1="387.5" y1="57.25" x2="562.9" y2="158.95" stroke="#3f73fb" stroke-width="1.25"/>
<line x1="529.7" y1="193.6" x2="562.9" y2="136.5" stroke="#5b2dc4" stroke-width="1.35"/>
</g>
<rect x="747.4" y="20.6" width="43.4" height="17.7" rx="3" fill="#fff" stroke="#eeeeee" stroke-width="0.8"/>
<text x="753.3" y="33" font-size="8.6" letter-spacing="-0.2" fill="#2a2e39" stroke="#2a2e39" stroke-width="0.12">JPY</text>
<text x="751.1" y="54.75" font-size="8.7" letter-spacing="0.12" fill="#2a2e39" stroke="#2a2e39" stroke-width="0.1">196.000</text>
<text x="751.1" y="78.93" font-size="8.7" letter-spacing="0.12" fill="#2a2e39" stroke="#2a2e39" stroke-width="0.1">195.500</text>
<text x="751.1" y="103.11" font-size="8.7" letter-spacing="0.12" fill="#2a2e39" stroke="#2a2e39" stroke-width="0.1">195.000</text>
<text x="751.1" y="127.29" font-size="8.7" letter-spacing="0.12" fill="#2a2e39" stroke="#2a2e39" stroke-width="0.1">194.500</text>
<text x="751.1" y="151.47" font-size="8.7" letter-spacing="0.12" fill="#2a2e39" stroke="#2a2e39" stroke-width="0.1">194.000</text>
<text x="751.1" y="175.65" font-size="8.7" letter-spacing="0.12" fill="#2a2e39" stroke="#2a2e39" stroke-width="0.1">193.500</text>
<text x="751.1" y="199.83" font-size="8.7" letter-spacing="0.12" fill="#2a2e39" stroke="#2a2e39" stroke-width="0.1">193.000</text>
<text x="751.1" y="224.01" font-size="8.7" letter-spacing="0.12" fill="#2a2e39" stroke="#2a2e39" stroke-width="0.1">192.500</text>
<text x="751.1" y="248.19" font-size="8.7" letter-spacing="0.12" fill="#2a2e39" stroke="#2a2e39" stroke-width="0.1">192.000</text>
<text x="751.1" y="272.37" font-size="8.7" letter-spacing="0.12" fill="#2a2e39" stroke="#2a2e39" stroke-width="0.1">191.500</text>
<text x="751.1" y="296.55" font-size="8.7" letter-spacing="0.12" fill="#2a2e39" stroke="#2a2e39" stroke-width="0.1">191.000</text>
<text x="751.1" y="320.73" font-size="8.7" letter-spacing="0.12" fill="#2a2e39" stroke="#2a2e39" stroke-width="0.1">190.500</text>
<text x="751.1" y="344.91" font-size="8.7" letter-spacing="0.12" fill="#2a2e39" stroke="#2a2e39" stroke-width="0.1">190.000</text>
<text x="751.1" y="369.09" font-size="8.7" letter-spacing="0.12" fill="#2a2e39" stroke="#2a2e39" stroke-width="0.1">189.500</text>
<text x="751.1" y="393.27" font-size="8.7" letter-spacing="0.12" fill="#2a2e39" stroke="#2a2e39" stroke-width="0.1">189.000</text>
<text x="751.1" y="417.45" font-size="8.7" letter-spacing="0.12" fill="#2a2e39" stroke="#2a2e39" stroke-width="0.1">188.500</text>
<text x="751.1" y="441.63" font-size="8.7" letter-spacing="0.12" fill="#2a2e39" stroke="#2a2e39" stroke-width="0.1">188.000</text>
<text x="751.1" y="465.81" font-size="8.7" letter-spacing="0.12" fill="#2a2e39" stroke="#2a2e39" stroke-width="0.1">187.500</text>
<path d="M745,132.6 H787.7 a2,2 0 0 1 2,2 V141.6 a2,2 0 0 1 -2,2 H745 Z" fill="#22a08e"/>
<text x="751.2" y="141.2" font-size="8.8" fill="#fff">02:36:22</text>
<text x="11.08" y="496.5" font-size="8.5" text-anchor="middle" fill="#2a2e39" stroke="#2a2e39" stroke-width="0.1">20</text>
<text x="57.48" y="496.5" font-size="8.5" text-anchor="middle" fill="#2a2e39" stroke="#2a2e39" stroke-width="0.1">23</text>
<text x="92.96" y="496.5" font-size="8.5" text-anchor="middle" fill="#2a2e39" stroke="#2a2e39" stroke-width="0.1">27</text>
<text x="172.12" y="496.3" font-size="8.2" text-anchor="middle" fill="#131722" font-weight="bold">Nov</text>
<text x="221.25" y="496.5" font-size="8.5" text-anchor="middle" fill="#2a2e39" stroke="#2a2e39" stroke-width="0.1">6</text>
<text x="256.73" y="496.5" font-size="8.5" text-anchor="middle" fill="#2a2e39" stroke="#2a2e39" stroke-width="0.1">10</text>
<text x="303.14" y="496.5" font-size="8.5" text-anchor="middle" fill="#2a2e39" stroke="#2a2e39" stroke-width="0.1">13</text>
<text x="338.62" y="496.5" font-size="8.5" text-anchor="middle" fill="#2a2e39" stroke="#2a2e39" stroke-width="0.1">17</text>
<text x="385.02" y="496.5" font-size="8.5" text-anchor="middle" fill="#2a2e39" stroke="#2a2e39" stroke-width="0.1">20</text>
<text x="420.50" y="496.5" font-size="8.5" text-anchor="middle" fill="#2a2e39" stroke="#2a2e39" stroke-width="0.1">24</text>
<text x="466.91" y="496.5" font-size="8.5" text-anchor="middle" fill="#2a2e39" stroke="#2a2e39" stroke-width="0.1">27</text>
<text x="502.39" y="496.3" font-size="8.2" text-anchor="middle" fill="#131722" font-weight="bold">Dec</text>
<text x="548.79" y="496.5" font-size="8.5" text-anchor="middle" fill="#2a2e39" stroke="#2a2e39" stroke-width="0.1">4</text>
<text x="584.27" y="496.5" font-size="8.5" text-anchor="middle" fill="#2a2e39" stroke="#2a2e39" stroke-width="0.1">8</text>
<text x="630.68" y="496.5" font-size="8.5" text-anchor="middle" fill="#2a2e39" stroke="#2a2e39" stroke-width="0.1">11</text>
<text x="666.16" y="496.5" font-size="8.5" text-anchor="middle" fill="#2a2e39" stroke="#2a2e39" stroke-width="0.1">15</text>
<text x="712.56" y="496.5" font-size="8.5" text-anchor="middle" fill="#2a2e39" stroke="#2a2e39" stroke-width="0.1">18</text>
<g fill="#000"><path d="M8.2,517.25 H15.9 V527.2 H12.1 V521 H8.2 Z"/><circle cx="19.4" cy="519.3" r="1.9"/><path d="M24.5,517.25 H27.7 L23.75,527.2 H20 Z"/></g>
<text x="33.3" y="527.2" font-size="13.8" font-weight="bold" fill="#000">TradingView</text>
</svg></body></html>
